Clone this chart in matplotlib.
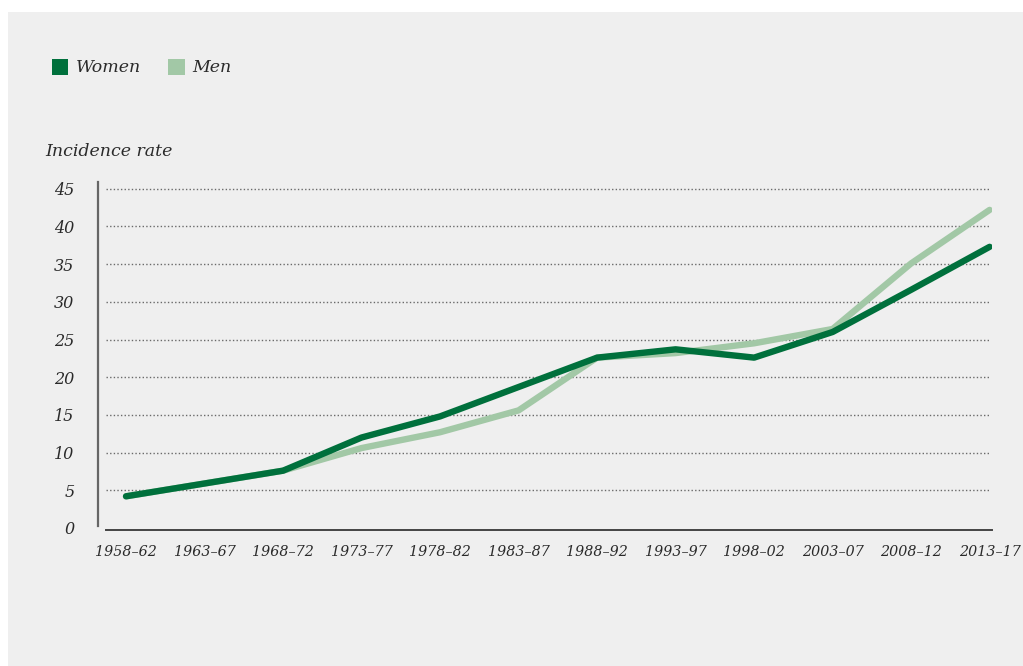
import matplotlib.pyplot as plt
from matplotlib.patches import Rectangle

periods = ["1958–62", "1963–67", "1968–72", "1973–77", "1978–82", "1983–87",
           "1988–92", "1993–97", "1998–02", "2003–07", "2008–12", "2013–17"]
women = [4.2, 5.9, 7.6, 12.0, 14.8, 18.7, 22.6, 23.7, 22.6, 26.0, 31.6, 37.3]
men = [4.2, 5.9, 7.6, 10.6, 12.7, 15.6, 22.6, 23.2, 24.5, 26.4, 35.1, 42.2]
y_ticks = [0, 5, 10, 15, 20, 25, 30, 35, 40, 45]

WOMEN_COLOR = "#00703c"
MEN_COLOR = "#a2c8a6"
TEXT_COLOR = "#2a2a2a"
PANEL_COLOR = "#efefef"

plt.rcParams["font.family"] = ["DejaVu Serif"]
plt.rcParams["font.style"] = "italic"

W, H = 1023, 666
fig = plt.figure(figsize=(W / 100, H / 100), dpi=100)
fig.patch.set_facecolor("white")

# grey panel behind everything
fig.patches.append(Rectangle((8 / W, 0), 1 - 8 / W, 1 - 12 / H,
                             transform=fig.transFigure, facecolor=PANEL_COLOR,
                             edgecolor="none", zorder=-5))

ax = fig.add_axes([98 / W, (H - 530) / H, (992 - 98) / W, (530 - 182) / H])
ax.set_facecolor("none")
ax.set_zorder(2)

x = list(range(len(periods)))
ax.set_xlim(-0.357, 11.03)
ax.set_ylim(-0.27, 45.9)

# dotted horizontal guides
ax.hlines(y_ticks[1:], -0.25, 11.0, colors="#6a6a6a", linestyles=(0, (1, 1.6)),
          linewidth=1.0, zorder=1)

ax.plot(x, men, color=MEN_COLOR, linewidth=4.6, solid_capstyle="round",
        solid_joinstyle="round", zorder=2)
ax.plot(x, women, color=WOMEN_COLOR, linewidth=4.6, solid_capstyle="round",
        solid_joinstyle="round", zorder=3)

for side in ["top", "right"]:
    ax.spines[side].set_visible(False)
ax.spines["left"].set_color("#666666")
ax.spines["left"].set_linewidth(1.6)
ax.spines["left"].set_bounds(0.2, 45.9)
ax.spines["bottom"].set_color("#444444")
ax.spines["bottom"].set_linewidth(1.4)
ax.spines["bottom"].set_bounds(-0.25, 11.03)

ax.set_xticks(x)
ax.set_xticklabels(periods, fontsize=10.3)
ax.set_yticks(y_ticks)
ax.set_yticklabels([str(v) for v in y_ticks], fontsize=11.5)
ax.tick_params(axis="both", length=0, colors=TEXT_COLOR)
ax.tick_params(axis="y", pad=17)
ax.tick_params(axis="x", pad=11)

fig.text(45 / W, 1 - 152 / H, "Incidence rate", fontsize=12.5, color=TEXT_COLOR,
         va="center", ha="left")

# legend: colored squares with labels
fig.patches.append(Rectangle((52 / W, 1 - 75 / H), 16 / W, 16 / H,
                             transform=fig.transFigure, facecolor=WOMEN_COLOR,
                             edgecolor="none"))
fig.text(76 / W, 1 - 67 / H, "Women", fontsize=12.5, color=TEXT_COLOR,
         va="center", ha="left")
fig.patches.append(Rectangle((168 / W, 1 - 75 / H), 17 / W, 16 / H,
                             transform=fig.transFigure, facecolor=MEN_COLOR,
                             edgecolor="none"))
fig.text(192 / W, 1 - 67 / H, "Men", fontsize=12.5, color=TEXT_COLOR,
         va="center", ha="left")

fig.savefig("out.png", dpi=100)
